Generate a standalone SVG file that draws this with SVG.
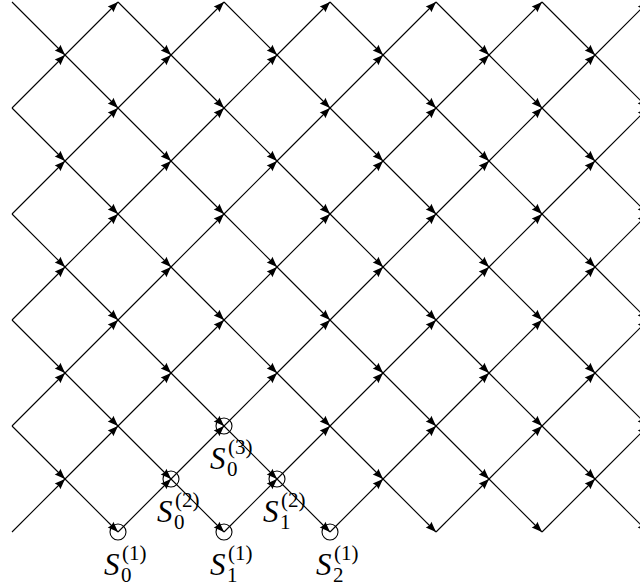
<svg xmlns="http://www.w3.org/2000/svg" width="640" height="586" viewBox="0 0 640 586">
<defs>
<style>
.ln{fill:none;stroke:#000;stroke-width:1.1;marker-mid:url(#ah);marker-end:url(#ah)}
.st{fill:none;stroke:#000;stroke-width:1.1}
.S{font-family:"Liberation Serif","Times New Roman",serif;font-style:italic;font-size:31px;fill:#000}
.i{font-family:"Liberation Serif","Times New Roman",serif;font-size:21px;fill:#000}
</style>
<marker id="ah" viewBox="-11 -4.5 11 9" refX="0" refY="0" markerWidth="11" markerHeight="9" markerUnits="userSpaceOnUse" orient="auto">
<path d="M0,0 L-10.5,-4 Q-8.5,0 -10.5,4 Z" fill="#000"/>
</marker>
</defs>
<rect width="640" height="586" fill="#fff"/>
<g id="connectors">
<path class="ln" d="M12,108 L65,55 L118,2"/>
<path class="ln" d="M12,214 L65,161 L118,108 L171,55 L224,2"/>
<path class="ln" d="M12,320 L65,267 L118,214 L171,161 L224,108 L277,55 L330,2"/>
<path class="ln" d="M12,426 L65,373 L118,320 L171,267 L224,214 L277,161 L330,108 L383,55 L436,2"/>
<path class="ln" d="M12,532 L65,479 L118,426 L171,373 L224,320 L277,267 L330,214 L383,161 L436,108 L489,55 L542,2"/>
<path class="ln" d="M118,532 L171,479 L224,426 L277,373 L330,320 L383,267 L436,214 L489,161 L542,108 L595,55 L648,2"/>
<path class="ln" d="M224,532 L277,479 L330,426 L383,373 L436,320 L489,267 L542,214 L595,161 L648,108"/>
<path class="ln" d="M330,532 L383,479 L436,426 L489,373 L542,320 L595,267 L648,214"/>
<path class="ln" d="M436,532 L489,479 L542,426 L595,373 L648,320"/>
<path class="ln" d="M542,532 L595,479 L648,426"/>
<path class="ln" d="M12,426 L65,479 L118,532"/>
<path class="ln" d="M12,320 L65,373 L118,426 L171,479 L224,532"/>
<path class="ln" d="M12,214 L65,267 L118,320 L171,373 L224,426 L277,479 L330,532"/>
<path class="ln" d="M12,108 L65,161 L118,214 L171,267 L224,320 L277,373 L330,426 L383,479 L436,532"/>
<path class="ln" d="M12,2 L65,55 L118,108 L171,161 L224,214 L277,267 L330,320 L383,373 L436,426 L489,479 L542,532"/>
<path class="ln" d="M118,2 L171,55 L224,108 L277,161 L330,214 L383,267 L436,320 L489,373 L542,426 L595,479 L648,532"/>
<path class="ln" d="M224,2 L277,55 L330,108 L383,161 L436,214 L489,267 L542,320 L595,373 L648,426"/>
<path class="ln" d="M330,2 L383,55 L436,108 L489,161 L542,214 L595,267 L648,320"/>
<path class="ln" d="M436,2 L489,55 L542,108 L595,161 L648,214"/>
<path class="ln" d="M542,2 L595,55 L648,108"/>
</g>
<g id="S0_1" transform="translate(118,532)">
<circle class="st" r="8"/>
<text class="S" x="-14" y="43">S</text><text class="i" x="3" y="50">0</text><text class="i" x="4" y="28">(1)</text>
</g>
<g id="S1_1" transform="translate(224,532)">
<circle class="st" r="8"/>
<text class="S" x="-14" y="43">S</text><text class="i" x="3" y="50">1</text><text class="i" x="4" y="28">(1)</text>
</g>
<g id="S2_1" transform="translate(330,532)">
<circle class="st" r="8"/>
<text class="S" x="-14" y="43">S</text><text class="i" x="3" y="50">2</text><text class="i" x="4" y="28">(1)</text>
</g>
<g id="S0_2" transform="translate(171,479)">
<circle class="st" r="8"/>
<text class="S" x="-14" y="43">S</text><text class="i" x="3" y="50">0</text><text class="i" x="4" y="28">(2)</text>
</g>
<g id="S1_2" transform="translate(277,479)">
<circle class="st" r="8"/>
<text class="S" x="-14" y="43">S</text><text class="i" x="3" y="50">1</text><text class="i" x="4" y="28">(2)</text>
</g>
<g id="S0_3" transform="translate(224,426)">
<circle class="st" r="8"/>
<text class="S" x="-14" y="43">S</text><text class="i" x="3" y="50">0</text><text class="i" x="4" y="28">(3)</text>
</g>
</svg>
